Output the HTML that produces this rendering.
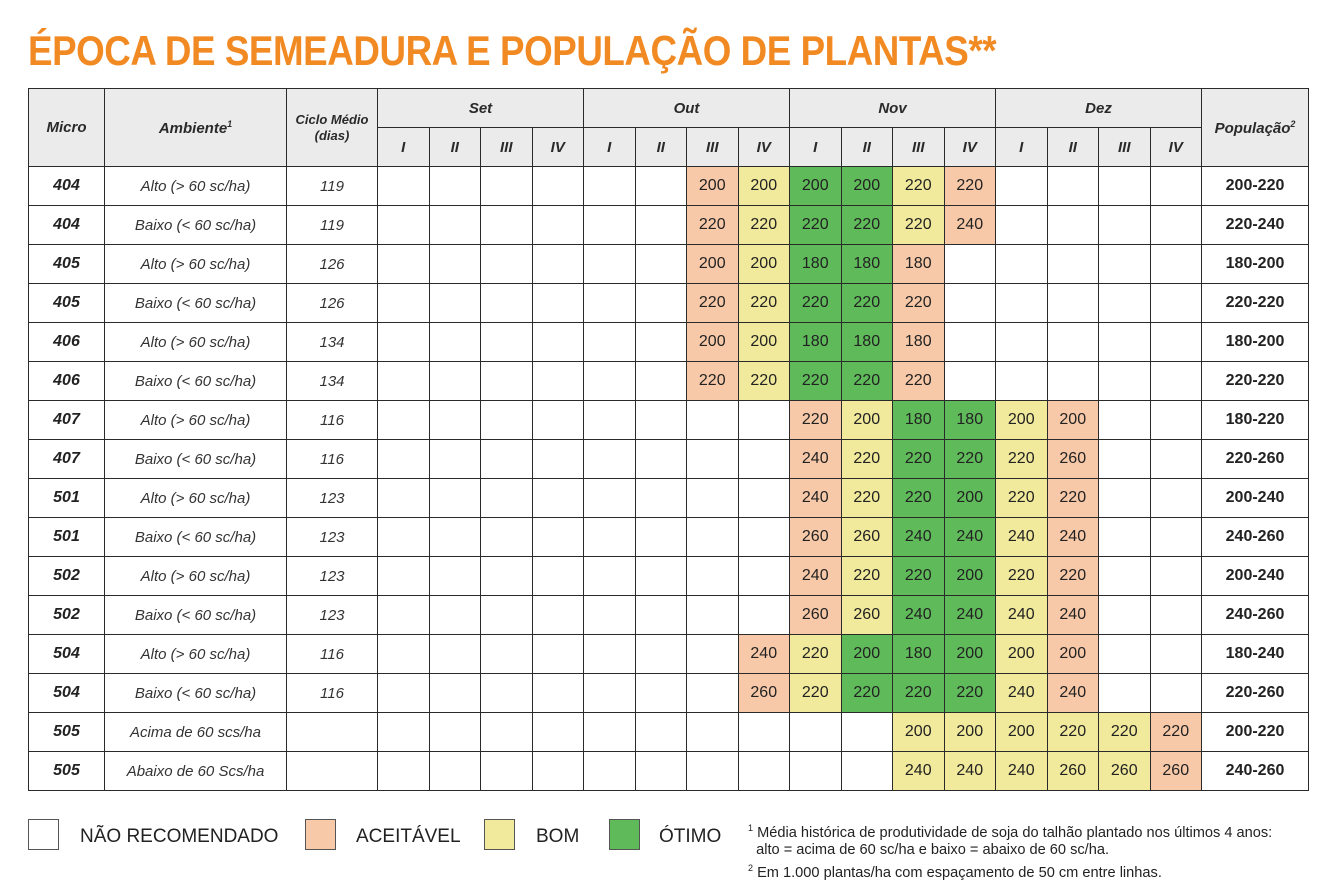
<!DOCTYPE html>
<html><head><meta charset="utf-8">
<style>
body{margin:0;width:1336px;height:892px;background:#fff;font-family:"Liberation Sans",sans-serif;color:#222;position:relative;overflow:hidden}
#title{position:absolute;left:28px;top:27px;font-size:42px;font-weight:bold;color:#f28a24;white-space:nowrap;transform-origin:0 0;transform:scaleX(0.875);letter-spacing:-0.5px}
table{position:absolute;left:28px;top:88px;border-collapse:collapse;table-layout:fixed}
td,th{border:1px solid #2a2a2a;padding:0;text-align:center;height:38px;font-size:16px;white-space:nowrap}
th{background:#ebebeb;font-style:italic;font-weight:bold;font-size:15px;color:#2a2a2a}
td.m{font-weight:bold;font-style:italic}
td.a,td.c{font-style:italic;font-size:15px;color:#333}
td.p{font-weight:bold}
.o{background:#f8c9a8}.y{background:#f1e99b}.g{background:#5fba5a}
.leg{position:absolute;top:819px;width:31px;height:31px;border:1px solid #555;box-sizing:border-box}
.lt{position:absolute;top:826px;font-size:19px;color:#222}
.fn{position:absolute;left:748px;font-size:14.6px;color:#222;line-height:17px;white-space:nowrap}
sup{font-size:9px}
</style></head><body>
<div id="title">ÉPOCA DE SEMEADURA E POPULAÇÃO DE PLANTAS**</div>
<table>
<colgroup><col style="width:76px"><col style="width:182px"><col style="width:91px">
<col style="width:51.5px"><col style="width:51.5px"><col style="width:51.5px"><col style="width:51.5px">
<col style="width:51.5px"><col style="width:51.5px"><col style="width:51.5px"><col style="width:51.5px">
<col style="width:51.5px"><col style="width:51.5px"><col style="width:51.5px"><col style="width:51.5px">
<col style="width:51.5px"><col style="width:51.5px"><col style="width:51.5px"><col style="width:51.5px">
<col style="width:107px"></colgroup>
<tr><th rowspan="2">Micro</th><th rowspan="2">Ambiente<sup>1</sup></th><th rowspan="2" style="font-size:13px;line-height:16px">Ciclo Médio<br>(dias)</th><th colspan="4">Set</th><th colspan="4">Out</th><th colspan="4">Nov</th><th colspan="4">Dez</th><th rowspan="2">População<sup>2</sup></th></tr>
<tr><th>I</th><th>II</th><th>III</th><th>IV</th><th>I</th><th>II</th><th>III</th><th>IV</th><th>I</th><th>II</th><th>III</th><th>IV</th><th>I</th><th>II</th><th>III</th><th>IV</th></tr>
<tr><td class="m">404</td><td class="a">Alto (&gt; 60 sc/ha)</td><td class="c">119</td><td></td><td></td><td></td><td></td><td></td><td></td><td class="o">200</td><td class="y">200</td><td class="g">200</td><td class="g">200</td><td class="y">220</td><td class="o">220</td><td></td><td></td><td></td><td></td><td class="p">200-220</td></tr>
<tr><td class="m">404</td><td class="a">Baixo (&lt; 60 sc/ha)</td><td class="c">119</td><td></td><td></td><td></td><td></td><td></td><td></td><td class="o">220</td><td class="y">220</td><td class="g">220</td><td class="g">220</td><td class="y">220</td><td class="o">240</td><td></td><td></td><td></td><td></td><td class="p">220-240</td></tr>
<tr><td class="m">405</td><td class="a">Alto (&gt; 60 sc/ha)</td><td class="c">126</td><td></td><td></td><td></td><td></td><td></td><td></td><td class="o">200</td><td class="y">200</td><td class="g">180</td><td class="g">180</td><td class="o">180</td><td></td><td></td><td></td><td></td><td></td><td class="p">180-200</td></tr>
<tr><td class="m">405</td><td class="a">Baixo (&lt; 60 sc/ha)</td><td class="c">126</td><td></td><td></td><td></td><td></td><td></td><td></td><td class="o">220</td><td class="y">220</td><td class="g">220</td><td class="g">220</td><td class="o">220</td><td></td><td></td><td></td><td></td><td></td><td class="p">220-220</td></tr>
<tr><td class="m">406</td><td class="a">Alto (&gt; 60 sc/ha)</td><td class="c">134</td><td></td><td></td><td></td><td></td><td></td><td></td><td class="o">200</td><td class="y">200</td><td class="g">180</td><td class="g">180</td><td class="o">180</td><td></td><td></td><td></td><td></td><td></td><td class="p">180-200</td></tr>
<tr><td class="m">406</td><td class="a">Baixo (&lt; 60 sc/ha)</td><td class="c">134</td><td></td><td></td><td></td><td></td><td></td><td></td><td class="o">220</td><td class="y">220</td><td class="g">220</td><td class="g">220</td><td class="o">220</td><td></td><td></td><td></td><td></td><td></td><td class="p">220-220</td></tr>
<tr><td class="m">407</td><td class="a">Alto (&gt; 60 sc/ha)</td><td class="c">116</td><td></td><td></td><td></td><td></td><td></td><td></td><td></td><td></td><td class="o">220</td><td class="y">200</td><td class="g">180</td><td class="g">180</td><td class="y">200</td><td class="o">200</td><td></td><td></td><td class="p">180-220</td></tr>
<tr><td class="m">407</td><td class="a">Baixo (&lt; 60 sc/ha)</td><td class="c">116</td><td></td><td></td><td></td><td></td><td></td><td></td><td></td><td></td><td class="o">240</td><td class="y">220</td><td class="g">220</td><td class="g">220</td><td class="y">220</td><td class="o">260</td><td></td><td></td><td class="p">220-260</td></tr>
<tr><td class="m">501</td><td class="a">Alto (&gt; 60 sc/ha)</td><td class="c">123</td><td></td><td></td><td></td><td></td><td></td><td></td><td></td><td></td><td class="o">240</td><td class="y">220</td><td class="g">220</td><td class="g">200</td><td class="y">220</td><td class="o">220</td><td></td><td></td><td class="p">200-240</td></tr>
<tr><td class="m">501</td><td class="a">Baixo (&lt; 60 sc/ha)</td><td class="c">123</td><td></td><td></td><td></td><td></td><td></td><td></td><td></td><td></td><td class="o">260</td><td class="y">260</td><td class="g">240</td><td class="g">240</td><td class="y">240</td><td class="o">240</td><td></td><td></td><td class="p">240-260</td></tr>
<tr><td class="m">502</td><td class="a">Alto (&gt; 60 sc/ha)</td><td class="c">123</td><td></td><td></td><td></td><td></td><td></td><td></td><td></td><td></td><td class="o">240</td><td class="y">220</td><td class="g">220</td><td class="g">200</td><td class="y">220</td><td class="o">220</td><td></td><td></td><td class="p">200-240</td></tr>
<tr><td class="m">502</td><td class="a">Baixo (&lt; 60 sc/ha)</td><td class="c">123</td><td></td><td></td><td></td><td></td><td></td><td></td><td></td><td></td><td class="o">260</td><td class="y">260</td><td class="g">240</td><td class="g">240</td><td class="y">240</td><td class="o">240</td><td></td><td></td><td class="p">240-260</td></tr>
<tr><td class="m">504</td><td class="a">Alto (&gt; 60 sc/ha)</td><td class="c">116</td><td></td><td></td><td></td><td></td><td></td><td></td><td></td><td class="o">240</td><td class="y">220</td><td class="g">200</td><td class="g">180</td><td class="g">200</td><td class="y">200</td><td class="o">200</td><td></td><td></td><td class="p">180-240</td></tr>
<tr><td class="m">504</td><td class="a">Baixo (&lt; 60 sc/ha)</td><td class="c">116</td><td></td><td></td><td></td><td></td><td></td><td></td><td></td><td class="o">260</td><td class="y">220</td><td class="g">220</td><td class="g">220</td><td class="g">220</td><td class="y">240</td><td class="o">240</td><td></td><td></td><td class="p">220-260</td></tr>
<tr><td class="m">505</td><td class="a">Acima de 60 scs/ha</td><td class="c"></td><td></td><td></td><td></td><td></td><td></td><td></td><td></td><td></td><td></td><td></td><td class="y">200</td><td class="y">200</td><td class="y">200</td><td class="y">220</td><td class="y">220</td><td class="o">220</td><td class="p">200-220</td></tr>
<tr><td class="m">505</td><td class="a">Abaixo de 60 Scs/ha</td><td class="c"></td><td></td><td></td><td></td><td></td><td></td><td></td><td></td><td></td><td></td><td></td><td class="y">240</td><td class="y">240</td><td class="y">240</td><td class="y">260</td><td class="y">260</td><td class="o">260</td><td class="p">240-260</td></tr>
</table>
<div class="leg" style="left:28px;background:#fff"></div><div class="lt" style="left:80px">NÃO RECOMENDADO</div>
<div class="leg o" style="left:305px"></div><div class="lt" style="left:356px">ACEITÁVEL</div>
<div class="leg y" style="left:484px"></div><div class="lt" style="left:536px">BOM</div>
<div class="leg g" style="left:609px"></div><div class="lt" style="left:659px">ÓTIMO</div>
<div class="fn" style="top:820px"><sup>1</sup> Média histórica de produtividade de soja do talhão plantado nos últimos 4 anos:<br>&nbsp;&nbsp;alto = acima de 60 sc/ha e baixo = abaixo de 60 sc/ha.</div>
<div class="fn" style="top:860px"><sup>2</sup> Em 1.000 plantas/ha com espaçamento de 50 cm entre linhas.</div>
</body></html>
